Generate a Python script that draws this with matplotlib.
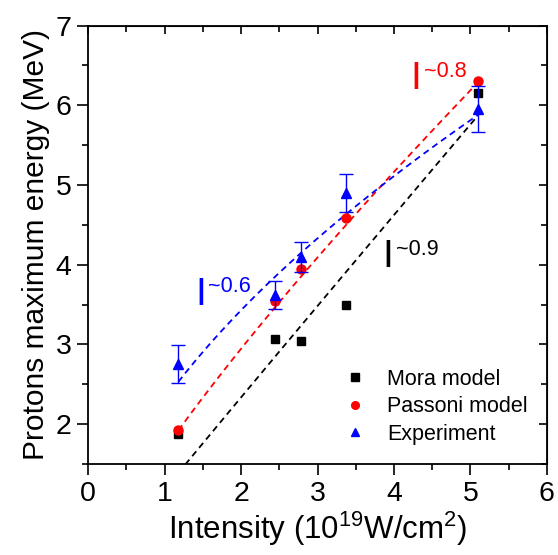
import numpy as np
import matplotlib
matplotlib.use('Agg')
from matplotlib import pyplot as plt
from matplotlib.ticker import MultipleLocator

plt.rcParams['font.family'] = ['Liberation Sans', 'DejaVu Sans']
plt.rcParams['mathtext.fontset'] = 'custom'
plt.rcParams['mathtext.rm'] = 'Liberation Sans'
plt.rcParams['mathtext.it'] = 'Liberation Sans'

# data
intensity = [1.18, 2.45, 2.78, 3.37, 5.1]
mora = [1.87, 3.07, 3.04, 3.49, 6.15]
passoni = [1.93, 3.55, 3.95, 4.58, 6.30]
experiment = [2.75, 3.62, 4.10, 4.90, 5.95]
exp_err = [0.24, 0.18, 0.19, 0.235, 0.29]

# power-law fits  E = a * I^b  (amplitude, exponent)
fit_mora = (1.18, 0.985)
fit_passoni = (1.68, 0.81)
fit_exp = (2.30, 0.576)
fit_range = (1.18, 5.1)

# scaling labels: (x, y, exponent text, colour)
scaling_labels = [(1.40, 3.50, '~0.6', 'blue'),
                  (4.22, 6.20, '~0.8', 'red'),
                  (3.85, 3.97, '~0.9', 'black')]

fig = plt.figure(figsize=(5.58, 5.55), dpi=100)
ax = fig.add_axes([0.158, 0.164, 0.822, 0.790])

xf = np.linspace(fit_range[0], fit_range[1], 200)
dash = (0, (3.5, 2.5))
ax.plot(xf, fit_mora[0] * xf ** fit_mora[1], color='black', ls=dash, lw=1.3)
ax.plot(xf, fit_passoni[0] * xf ** fit_passoni[1], color='red', ls=dash, lw=1.3)
ax.plot(xf, fit_exp[0] * xf ** fit_exp[1], color='blue', ls=dash, lw=1.3)

ax.plot(intensity, mora, 's', color='black', ms=6, label='Mora model')
ax.plot(intensity, passoni, 'o', color='red', ms=6.5, label='Passoni model')
ax.errorbar(intensity, experiment, yerr=exp_err, fmt='none',
            ecolor='blue', elinewidth=1, capsize=5, capthick=1)
ax.plot(intensity, experiment, '^', color='blue', ms=7, label='Experiment')

ax.set_xlim(0, 6)
ax.set_ylim(1.5, 7)
ax.xaxis.set_major_locator(MultipleLocator(1))
ax.xaxis.set_minor_locator(MultipleLocator(0.5))
ax.yaxis.set_major_locator(MultipleLocator(1))
ax.yaxis.set_minor_locator(MultipleLocator(0.5))
ax.tick_params(which='major', direction='out', length=8, width=1.2, labelsize=20.5, pad=4)
ax.tick_params(which='minor', direction='out', length=4, width=1.2)
for s in ax.spines.values():
    s.set_linewidth(1.3)

# mirrored ticks on top and right, pointing inward
top = ax.secondary_xaxis('top')
top.xaxis.set_major_locator(MultipleLocator(1))
top.xaxis.set_minor_locator(MultipleLocator(0.5))
top.tick_params(which='major', direction='in', length=6, width=1.2, labeltop=False)
top.tick_params(which='minor', direction='in', length=4, width=1.2)
right = ax.secondary_yaxis('right')
right.yaxis.set_major_locator(MultipleLocator(1))
right.yaxis.set_minor_locator(MultipleLocator(0.5))
right.tick_params(which='major', direction='in', length=6, width=1.2, labelright=False)
right.tick_params(which='minor', direction='in', length=4, width=1.2)

ax.set_xlabel(r'Intensity (10$^{19}$W/cm$^{2}$)', fontsize=22.5, labelpad=2)
ax.set_ylabel('Protons maximum energy (MeV)', fontsize=21.5, labelpad=4)

for x, y, sup, c in scaling_labels:
    ax.text(x, y, 'I', color=c, fontsize=28, va='baseline')
    ax.annotate(sup, xy=(x, y), xycoords='data', xytext=(9.5, 9),
                textcoords='offset points', color=c, fontsize=15.5, va='baseline')

ax.legend(loc='lower right', bbox_to_anchor=(1.0, 0.0), frameon=False, fontsize=15.5,
          handletextpad=0.5, labelspacing=0.3, handlelength=2.0, markerscale=0.85)

plt.savefig('out.png', dpi=100)
